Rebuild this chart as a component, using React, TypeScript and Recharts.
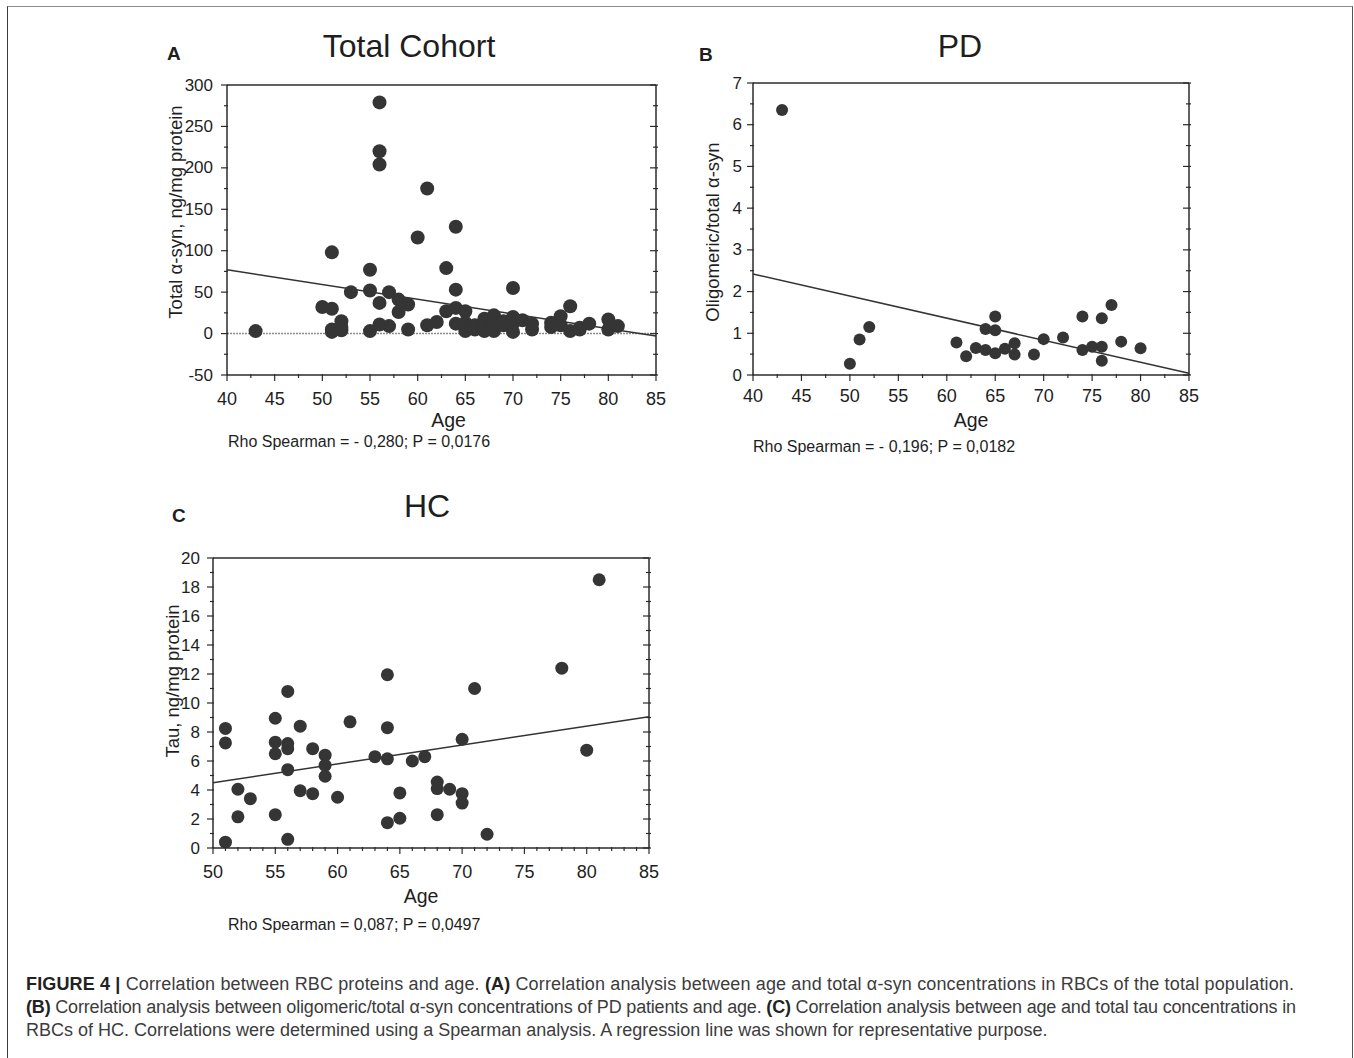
import React from 'react';
import { ScatterChart, Scatter, XAxis, YAxis, ReferenceLine } from 'recharts';

const INK = '#1e1e1e';
const AXIS = '#2b2b2b';
const DOT = '#353535';
const CAPTION = '#3c3c3c';
const FONT = '"Liberation Sans", Arial, Helvetica, sans-serif';

// A: total cohort, total α-syn (ng/mg protein) vs age
const cohortAge = [
  43, 50, 51, 51, 51, 51, 52, 52, 52, 53, 55, 55, 55, 56, 56, 56, 56, 56, 57, 57, 58, 58, 59, 59,
  60, 61, 61, 62, 63, 63, 64, 64, 64, 64, 65, 65, 65, 66, 66, 67, 67, 67, 68, 68, 68, 69, 69, 70,
  70, 70, 70, 71, 72, 72, 74, 74, 75, 75, 76, 76, 77, 77, 78, 80, 80, 81,
];
const cohortSyn = [
  3, 32, 98, 30, 5, 2, 15, 8, 4, 50, 77, 52, 3, 279, 220, 204, 37, 11, 50, 9, 41, 26, 35, 5,
  116, 175, 10, 14, 79, 27, 129, 53, 31, 12, 27, 13, 3, 10, 5, 18, 8, 3, 22, 12, 3, 10, 15, 55,
  20, 12, 2, 16, 12, 5, 13, 8, 21, 10, 33, 3, 5, 7, 12, 17, 5, 9,
];
const cohortFitAge = [40, 85];
const cohortFitVal = [77, -3];
const cohortXTicks = [40, 45, 50, 55, 60, 65, 70, 75, 80, 85];
const cohortYTicks = [-50, 0, 50, 100, 150, 200, 250, 300];

// B: PD, oligomeric/total α-syn vs age
const pdAge = [43, 50, 51, 52, 61, 62, 63, 64, 64, 65, 65, 65, 66, 67, 67, 69, 70, 72, 74, 74, 75, 76, 76, 76, 77, 78, 80];
const pdRatio = [6.35, 0.27, 0.85, 1.15, 0.78, 0.45, 0.65, 1.1, 0.6, 1.4, 1.07, 0.52, 0.63, 0.76, 0.49, 0.49, 0.86, 0.9, 1.4, 0.6, 0.68, 1.36, 0.68, 0.34, 1.68, 0.8, 0.64];
const pdFitAge = [40, 85];
const pdFitVal = [2.42, 0.04];
const pdXTicks = [40, 45, 50, 55, 60, 65, 70, 75, 80, 85];
const pdYTicks = [0, 1, 2, 3, 4, 5, 6, 7];

// C: HC, tau (ng/mg protein) vs age
const hcAge = [
  51, 51, 51, 52, 52, 53, 55, 55, 55, 55, 56, 56, 56, 56, 56, 57, 57, 58, 58, 59, 59, 59, 60, 61,
  63, 64, 64, 64, 64, 65, 65, 66, 67, 68, 68, 68, 69, 70, 70, 70, 71, 72, 78, 80, 81,
];
const hcTau = [
  0.4, 8.25, 7.25, 4.05, 2.15, 3.4, 8.95, 7.3, 6.5, 2.3, 10.8, 7.2, 6.85, 5.4, 0.6, 8.4, 3.95, 6.85, 3.75, 6.4, 5.7, 4.95, 3.5, 8.7,
  6.3, 11.95, 8.3, 6.15, 1.75, 3.8, 2.05, 6.0, 6.3, 4.55, 4.1, 2.3, 4.05, 3.75, 3.1, 7.5, 11.0, 0.95, 12.4, 6.75, 18.5,
];
const hcFitAge = [50, 85];
const hcFitVal = [4.5, 9.05];
const hcXTicks = [50, 55, 60, 65, 70, 75, 80, 85];
const hcYTicks = [0, 2, 4, 6, 8, 10, 12, 14, 16, 18, 20];

// add minor ticks between majors
function withMinor(majors: number[], parts: number) {
  const out: number[] = [];
  for (let i = 0; i < majors.length; i++) {
    out.push(majors[i]);
    if (i < majors.length - 1) {
      const step = (majors[i + 1] - majors[i]) / parts;
      for (let k = 1; k < parts; k++) out.push(+(majors[i] + step * k).toFixed(4));
    }
  }
  return out;
}

type Side = 'bottom' | 'top' | 'left' | 'right';

function tickFor(side: Side, majors: number[], gap = 0, fontSize = 17) {
  return (props: any) => {
    const { x, y, payload } = props;
    const v = payload.value;
    const major = majors.some((m) => Math.abs(m - v) < 1e-6);
    const len = major ? 6 : 3;
    let line;
    let label = null;
    if (side === 'bottom') {
      line = <line x1={x} y1={y - 1} x2={x} y2={y + len} stroke={AXIS} strokeWidth={1.2} />;
      if (major)
        label = (
          <text x={x} y={y + gap} textAnchor="middle" dominantBaseline="central" fontSize={fontSize} fill={INK} fontFamily={FONT}>
            {String(v)}
          </text>
        );
    } else if (side === 'left') {
      line = <line x1={x - len} y1={y} x2={x + 1} y2={y} stroke={AXIS} strokeWidth={1.2} />;
      if (major)
        label = (
          <text x={x - gap} y={y} textAnchor="end" dominantBaseline="central" fontSize={fontSize} fill={INK} fontFamily={FONT}>
            {String(v)}
          </text>
        );
    } else if (side === 'top') {
      line = <line x1={x} y1={y - 2} x2={x} y2={y + len} stroke={AXIS} strokeWidth={1.2} />;
    } else {
      line = <line x1={x + 2} y1={y} x2={x - len} y2={y} stroke={AXIS} strokeWidth={1.2} />;
    }
    return (
      <g>
        {line}
        {label}
      </g>
    );
  };
}

type PanelProps = {
  left: number;
  top: number;
  width: number;
  height: number;
  age: number[];
  values: number[];
  fitAge: number[];
  fitVal: number[];
  xTicks: number[];
  xParts: number;
  yTicks: number[];
  yParts: number;
  yLabel: string;
  yLabelDx: number;
  yLabelDy: number;
  xLabelDx: number;
  xLabelDy: number;
  xGap: number;
  yGap: number;
  r: number;
  zeroLine?: boolean;
};

function Panel(p: PanelProps) {
  const data = p.age.map((a, i) => ({ age: a, v: p.values[i] }));
  const xDomain = [p.xTicks[0], p.xTicks[p.xTicks.length - 1]];
  const yDomain = [p.yTicks[0], p.yTicks[p.yTicks.length - 1]];
  const xAll = withMinor(p.xTicks, p.xParts);
  const yAll = withMinor(p.yTicks, p.yParts);
  const axisLine = { stroke: AXIS, strokeWidth: 1.5 };
  return (
    <div style={{ position: 'absolute', left: p.left, top: p.top, width: p.width, height: p.height }}>
      <ScatterChart width={p.width} height={p.height} margin={{ top: 5, right: 10, bottom: 5, left: 10 }}>
        <XAxis
          type="number"
          dataKey="age"
          domain={xDomain}
          allowDataOverflow
          ticks={xAll}
          interval={0}
          tickSize={0}
          tickMargin={0}
          tickLine={false}
          axisLine={axisLine}
          height={70}
          tick={tickFor('bottom', p.xTicks, p.xGap, 18)}
          label={(lp: any) => {
            const vb = lp.viewBox;
            return (
              <text
                x={vb.x + vb.width / 2 + p.xLabelDx}
                y={vb.y + p.xLabelDy}
                textAnchor="middle"
                dominantBaseline="central"
                fontSize={19.5}
                fill={INK}
                fontFamily={FONT}
              >
                Age
              </text>
            );
          }}
        />
        <XAxis
          xAxisId="top"
          orientation="top"
          type="number"
          domain={xDomain}
          allowDataOverflow
          ticks={xAll}
          interval={0}
          tickSize={0}
          tickMargin={0}
          tickLine={false}
          axisLine={axisLine}
          height={10}
          tick={tickFor('top', p.xTicks)}
        />
        <YAxis
          type="number"
          dataKey="v"
          domain={yDomain}
          allowDataOverflow
          ticks={yAll}
          interval={0}
          tickSize={0}
          tickMargin={0}
          tickLine={false}
          axisLine={axisLine}
          width={80}
          tick={tickFor('left', p.yTicks, p.yGap, 17)}
          label={(lp: any) => {
            const vb = lp.viewBox;
            const cx = vb.x + vb.width + p.yLabelDx;
            const cy = vb.y + vb.height / 2 + p.yLabelDy;
            return (
              <text
                x={cx}
                y={cy}
                transform={`rotate(-90 ${cx} ${cy})`}
                textAnchor="middle"
                dominantBaseline="central"
                fontSize={18.5}
                fill={INK}
                fontFamily={FONT}
              >
                {p.yLabel}
              </text>
            );
          }}
        />
        <YAxis
          yAxisId="right"
          orientation="right"
          type="number"
          domain={yDomain}
          allowDataOverflow
          ticks={yAll}
          interval={0}
          tickSize={0}
          tickMargin={0}
          tickLine={false}
          axisLine={axisLine}
          width={10}
          tick={tickFor('right', p.yTicks)}
        />
        {p.zeroLine && <ReferenceLine y={0} stroke="#8c8c8c" strokeWidth={1.5} strokeDasharray="2 1" />}
        <ReferenceLine
          segment={[
            { x: p.fitAge[0], y: p.fitVal[0] },
            { x: p.fitAge[1], y: p.fitVal[1] },
          ]}
          stroke="#333"
          strokeWidth={1.5}
          ifOverflow="visible"
        />
        <Scatter
          data={data}
          isAnimationActive={false}
          shape={(sp: any) => <circle cx={sp.cx} cy={sp.cy} r={p.r} fill={DOT} />}
        />
      </ScatterChart>
    </div>
  );
}

export default function App() {
  return (
    <div style={{ position: 'absolute', left: 0, top: 0, width: 1354, height: 1058, background: '#fff', overflow: 'hidden' }}>
      <div
        style={{
          position: 'absolute',
          left: 7,
          top: 6,
          width: 1344,
          height: 1060,
          borderTop: '1.5px solid #8a8a8a',
          borderLeft: '1.5px solid #3a3a3a',
          borderRight: '1.5px solid #555',
        }}
      />
      <svg width={1354} height={1058} style={{ position: 'absolute', left: 0, top: 0 }} fontFamily={FONT}>
        <text x={167} y={60} fontSize={19} fontWeight="bold" fill={INK}>A</text>
        <text x={409} y={57} fontSize={32} textAnchor="middle" fill={INK}>Total Cohort</text>
        <text x={699} y={61} fontSize={19} fontWeight="bold" fill={INK}>B</text>
        <text x={960} y={57} fontSize={32} textAnchor="middle" fill={INK}>PD</text>
        <text x={172} y={522} fontSize={19} fontWeight="bold" fill={INK}>C</text>
        <text x={427} y={517} fontSize={32} textAnchor="middle" fill={INK}>HC</text>
        <text x={228} y={447} fontSize={16} fill={INK}>Rho Spearman = - 0,280; P = 0,0176</text>
        <text x={753} y={452} fontSize={16} fill={INK}>Rho Spearman = - 0,196; P = 0,0182</text>
        <text x={228} y={930} fontSize={16} fill={INK}>Rho Spearman = 0,087; P = 0,0497</text>
        <text x={26} y={990} fontSize={18} fill={CAPTION} textLength={1268} lengthAdjust="spacing">
          <tspan fontWeight="bold" fill="#222">FIGURE 4 |</tspan>
          <tspan>{' Correlation between RBC proteins and age. '}</tspan>
          <tspan fontWeight="bold" fill="#222">(A)</tspan>
          <tspan>{' Correlation analysis between age and total α-syn concentrations in RBCs of the total population.'}</tspan>
        </text>
        <text x={26} y={1013} fontSize={18} fill={CAPTION} textLength={1270} lengthAdjust="spacing">
          <tspan fontWeight="bold" fill="#222">(B)</tspan>
          <tspan>{' Correlation analysis between oligomeric/total α-syn concentrations of PD patients and age. '}</tspan>
          <tspan fontWeight="bold" fill="#222">(C)</tspan>
          <tspan>{' Correlation analysis between age and total tau concentrations in'}</tspan>
        </text>
        <text x={26} y={1036} fontSize={18} fill={CAPTION}>
          RBCs of HC. Correlations were determined using a Spearman analysis. A regression line was shown for representative purpose.
        </text>
      </svg>
      <Panel
        left={137}
        top={70}
        width={539}
        height={380}
        age={cohortAge}
        values={cohortSyn}
        fitAge={cohortFitAge}
        fitVal={cohortFitVal}
        xTicks={cohortXTicks}
        xParts={2}
        yTicks={cohortYTicks}
        yParts={2}
        yLabel="Total α-syn, ng/mg protein"
        yLabelDx={-52}
        yLabelDy={-18}
        xLabelDx={7}
        xLabelDy={45}
        xGap={24}
        yGap={14}
        r={7}
        zeroLine
      />
      <Panel
        left={663}
        top={68}
        width={546}
        height={382}
        age={pdAge}
        values={pdRatio}
        fitAge={pdFitAge}
        fitVal={pdFitVal}
        xTicks={pdXTicks}
        xParts={2}
        yTicks={pdYTicks}
        yParts={2}
        yLabel="Oligomeric/total α-syn"
        yLabelDx={-41}
        yLabelDy={3}
        xLabelDx={0}
        xLabelDy={45}
        xGap={21}
        yGap={11}
        r={6}
      />
      <Panel
        left={123}
        top={543}
        width={546}
        height={380}
        age={hcAge}
        values={hcTau}
        fitAge={hcFitAge}
        fitVal={hcFitVal}
        xTicks={hcXTicks}
        xParts={5}
        yTicks={hcYTicks}
        yParts={2}
        yLabel="Tau, ng/mg protein"
        yLabelDx={-41}
        yLabelDy={-22}
        xLabelDx={-10}
        xLabelDy={48}
        xGap={24}
        yGap={13}
        r={6.5}
      />
    </div>
  );
}
